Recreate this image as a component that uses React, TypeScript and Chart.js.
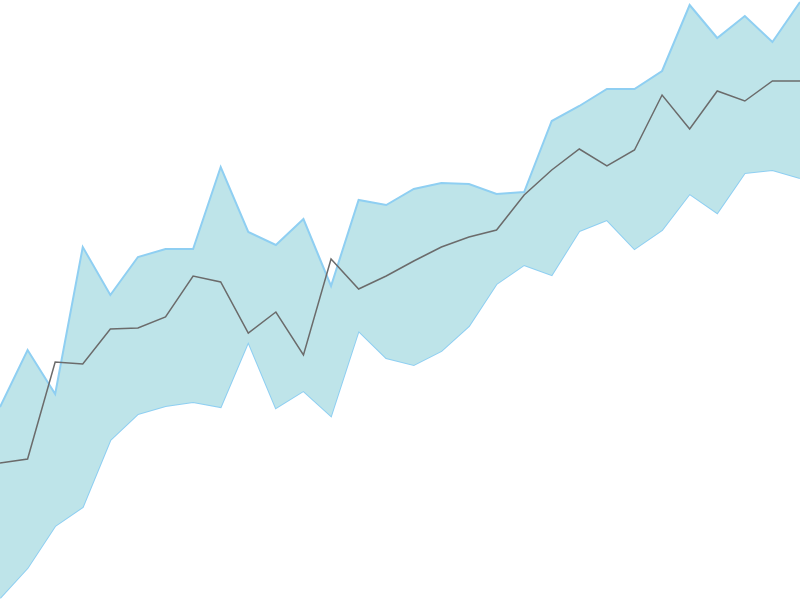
import Chart from "chart.js/auto";
import { useEffect, useRef } from "react";

const labels = Array.from({ length: 30 }, (_, i) => String(i + 1));

const upper = [
  193, 250, 206, 353, 305, 343, 351, 351, 433, 368, 355, 381, 314, 400, 395,
  411, 417, 416, 406, 408, 479, 494, 511, 511, 529, 595, 562, 584, 558, 598,
];
const middle = [
  137, 141, 238, 236, 271, 272, 283, 324, 318, 267, 288, 245, 341, 311, 324,
  339, 353, 363, 370, 405, 430, 451, 434, 450, 505, 471, 509, 499, 519, 519,
];
const lower = [
  2, 32, 74, 93, 160, 186, 194, 198, 193, 258, 192, 209, 184, 269, 242, 235,
  249, 274, 316, 335, 325, 369, 380, 351, 370, 406, 387, 427, 430, 422,
];

export default function App() {
  const ref = useRef<HTMLCanvasElement | null>(null);
  useEffect(() => {
    if (!ref.current) return;
    const chart = new Chart(ref.current, {
      type: "line",
      data: {
        labels: labels,
        datasets: [
          {
            label: "mean",
            data: middle,
            borderColor: "#6b6b6b",
            borderWidth: 1.5,
            pointRadius: 0,
            fill: false,
            order: 0,
          },
          {
            label: "upper",
            data: upper,
            borderColor: "#8fcff2",
            backgroundColor: "#bee4e9",
            borderWidth: 2,
            pointRadius: 0,
            fill: "+1",
            order: 1,
          },
          {
            label: "lower",
            data: lower,
            borderColor: "#8fcff2",
            borderWidth: 2,
            pointRadius: 0,
            fill: false,
            order: 1,
          },
        ],
      },
      options: {
        animation: false,
        responsive: true,
        maintainAspectRatio: false,
        layout: { padding: 0 },
        plugins: {
          legend: { display: false },
          tooltip: { enabled: false },
        },
        scales: {
          x: { display: false },
          y: { display: false, min: 0, max: 600 },
        },
      },
    });
    return () => chart.destroy();
  }, [ref]);

  return (
    <div style={{ position: "fixed", left: 0, top: 0, width: 800, height: 600 }}>
      <canvas ref={ref}></canvas>
    </div>
  );
}
